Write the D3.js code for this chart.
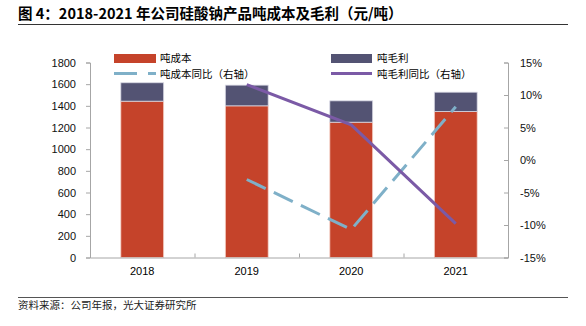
<!DOCTYPE html>
<html>
<head>
<meta charset="utf-8">
<script src="https://cdn.jsdelivr.net/npm/d3@7"></script>
<style>
  body { margin: 0; background: #fff; }
  text { font-family: "Liberation Sans", "Noto Sans CJK SC", sans-serif; fill: #000; }
  .cn { font-family: "Noto Sans CJK SC", sans-serif; }
</style>
</head>
<body>
<script>
var years = ["2018", "2019", "2020", "2021"];
var costPerTon = [1443, 1400, 1249, 1348];
var marginPerTon = [170, 191, 197, 178];
var costYoY = [null, -3.0, -10.7, 8.2];
var marginYoY = [null, 11.6, 5.4, -9.8];
var leftTicks = [0, 200, 400, 600, 800, 1000, 1200, 1400, 1600, 1800];
var rightTicks = [-15, -10, -5, 0, 5, 10, 15];

var width = 586, height = 326;
var svg = d3.select("body").append("svg").attr("width", width).attr("height", height);

// title + rules
svg.append("text").attr("class", "cn").attr("x", 18).attr("y", 19)
  .style("font-size", "14.5px").style("font-weight", "bold")
  .text("图 4：2018-2021 年公司硅酸钠产品吨成本及毛利（元/吨）");
svg.append("line").attr("x1", 18).attr("x2", 568).attr("y1", 24.5).attr("y2", 24.5)
  .attr("stroke", "#333").attr("stroke-width", 1.2);
svg.append("line").attr("x1", 18).attr("x2", 568).attr("y1", 297.5).attr("y2", 297.5)
  .attr("stroke", "#555").attr("stroke-width", 1);
svg.append("text").attr("class", "cn").attr("x", 18).attr("y", 309)
  .style("font-size", "10.5px").style("fill", "#222")
  .text("资料来源：公司年报，光大证券研究所");

var x0 = 90, x1 = 508, yTop = 62.5, yBot = 257.5;

var x = d3.scaleBand().domain(years).range([x0, x1]).paddingInner(0.59).paddingOuter(0.295);
var yL = d3.scaleLinear().domain([0, 1800]).range([yBot, yTop]);
var yR = d3.scaleLinear().domain([-15, 15]).range([yBot, yTop]);

var stacked = years.map(function(y, i) {
  return { year: y, cost: costPerTon[i], margin: marginPerTon[i] };
});

// bars
var g = svg.append("g");
g.selectAll("rect.cost").data(stacked).join("rect").attr("class", "cost")
  .attr("x", d => x(d.year)).attr("width", x.bandwidth())
  .attr("y", d => yL(d.cost)).attr("height", d => yL(0) - yL(d.cost))
  .attr("fill", "#C5432A").attr("stroke", "#f4d2c8").attr("stroke-width", 0.8);
g.selectAll("rect.margin").data(stacked).join("rect").attr("class", "margin")
  .attr("x", d => x(d.year)).attr("width", x.bandwidth())
  .attr("y", d => yL(d.cost + d.margin)).attr("height", d => yL(d.cost) - yL(d.cost + d.margin))
  .attr("fill", "#535373").attr("stroke", "#d8d8e4").attr("stroke-width", 0.8);

// axes
var axisColor = "#a6a6a6";
var leftAxis = svg.append("g").attr("transform", "translate(" + x0 + ",0)")
  .call(d3.axisLeft(yL).tickValues(leftTicks).tickSize(4).tickPadding(10).tickFormat(d3.format("d")));
var rightAxis = svg.append("g").attr("transform", "translate(" + x1 + ",0)")
  .call(d3.axisRight(yR).tickValues(rightTicks).tickSize(-4).tickPadding(12).tickFormat(d => d + "%"));
var bottomAxis = svg.append("g").attr("transform", "translate(0," + yBot + ")")
  .call(d3.axisBottom(d3.scaleLinear().domain([0, 4]).range([x0, x1])).tickValues([1, 2, 3]).tickSize(-4).tickFormat(""));
[leftAxis, rightAxis, bottomAxis].forEach(function(a) {
  a.selectAll("path").attr("stroke", axisColor);
  a.selectAll("line").attr("stroke", axisColor);
  a.selectAll("text").style("font-size", "11px").style("font-family", "Liberation Sans").style("fill", "#111");
});
svg.append("g").selectAll("text").data(years).join("text")
  .attr("x", d => x(d) + x.bandwidth() / 2).attr("y", 275)
  .attr("text-anchor", "middle").style("font-size", "11px").text(d => d);

// lines
var costLine = years.map((y, i) => ({ year: y, v: costYoY[i] })).filter(d => d.v !== null);
var marginLine = years.map((y, i) => ({ year: y, v: marginYoY[i] })).filter(d => d.v !== null);
var line = d3.line().x(d => x(d.year) + x.bandwidth() / 2).y(d => yR(d.v));

svg.append("path").datum(costLine).attr("d", line).attr("fill", "none")
  .attr("stroke", "#7FB0C8").attr("stroke-width", 3)
  .attr("stroke-dasharray", "21,9");
svg.append("path").datum(marginLine).attr("d", line).attr("fill", "none")
  .attr("stroke", "#7B5AA6").attr("stroke-width", 3);

// legend
var lg = svg.append("g").style("font-size", "10.5px");
lg.append("rect").attr("x", 114).attr("y", 54).attr("width", 42).attr("height", 9).attr("fill", "#C5432A");
lg.append("text").attr("class", "cn").attr("x", 160).attr("y", 62).text("吨成本");
lg.append("rect").attr("x", 331).attr("y", 54).attr("width", 41).attr("height", 9).attr("fill", "#535373");
lg.append("text").attr("class", "cn").attr("x", 377).attr("y", 62).text("吨毛利");
lg.append("line").attr("x1", 114).attr("x2", 156).attr("y1", 73.5).attr("y2", 73.5)
  .attr("stroke", "#7FB0C8").attr("stroke-width", 3).attr("stroke-dasharray", "23,11");
lg.append("text").attr("class", "cn").attr("x", 160).attr("y", 78).text("吨成本同比（右轴）");
lg.append("line").attr("x1", 331).attr("x2", 372).attr("y1", 73.5).attr("y2", 73.5)
  .attr("stroke", "#7B5AA6").attr("stroke-width", 3);
lg.append("text").attr("class", "cn").attr("x", 377).attr("y", 78).text("吨毛利同比（右轴）");
</script>
</body>
</html>
